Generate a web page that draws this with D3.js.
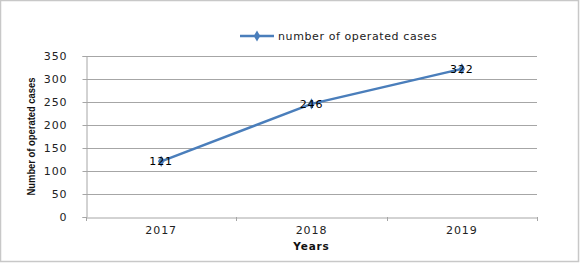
<!DOCTYPE html>
<html><head><meta charset="utf-8">
<script src="https://cdn.jsdelivr.net/npm/d3@7"></script>
<style>body{margin:0;background:#fff}svg{display:block}</style>
</head><body>
<script>
const categories = ["2017", "2018", "2019"];
const values = [121, 246, 322];
const yTicks = [0, 50, 100, 150, 200, 250, 300, 350];
const seriesName = "number of operated cases";
const xTitle = "Years";
const yTitle = "Number of operated cases";

(function () {
const W = 580, H = 263;
const svg = d3.select("body").append("svg").attr("width", W).attr("height", H);
svg.append("rect").attr("x", 0.5).attr("y", 0.5).attr("width", W - 2).attr("height", H - 2)
  .attr("fill", "#fff").attr("stroke", "#c8c8c8").attr("stroke-width", 1.5);

const mLeft = 86, mRight = 537, mTop = 56, mBottom = 217;
const x = d3.scaleBand().domain(categories).range([mLeft, mRight]);
const y = d3.scaleLinear().domain([0, 350]).range([mBottom, mTop]);
const font = "Verdana, 'DejaVu Sans', sans-serif";
const ls = 0.9;

// gridlines
svg.append("g").selectAll("line").data(yTicks.filter(d => d > 0)).join("line")
  .attr("x1", mLeft).attr("x2", mRight)
  .attr("y1", d => Math.round(y(d)) + 0.5).attr("y2", d => Math.round(y(d)) + 0.5)
  .attr("stroke", "#a6a6a6").attr("stroke-width", 1);

// y axis
const yAxis = svg.append("g").attr("transform", `translate(${mLeft + 0.5},0)`)
  .call(d3.axisLeft(y).tickValues(yTicks).tickSize(4).tickPadding(15));
yAxis.select(".domain").attr("stroke", "#a6a6a6");
yAxis.selectAll(".tick line").attr("stroke", "#a6a6a6");
yAxis.selectAll("text").attr("font-family", font).attr("font-size", 11)
  .attr("letter-spacing", ls).attr("fill", "#222");

// x axis
const xAxis = svg.append("g").attr("transform", `translate(0,${mBottom + 0.5})`)
  .call(d3.axisBottom(x).tickSize(0).tickPadding(9));
xAxis.select(".domain").attr("stroke", "#a6a6a6");
xAxis.selectAll("text").attr("font-family", font).attr("font-size", 11)
  .attr("letter-spacing", ls).attr("fill", "#222");
const bounds = categories.map(c => x(c)).concat([x(categories[categories.length - 1]) + x.bandwidth()]);
svg.append("g").selectAll("line").data(bounds).join("line")
  .attr("x1", d => Math.round(d) + 0.5).attr("x2", d => Math.round(d) + 0.5)
  .attr("y1", mBottom).attr("y2", mBottom + 4).attr("stroke", "#a6a6a6");

// line
const cx = d => x(d) + x.bandwidth() / 2;
const pts = categories.map((c, i) => [cx(c), y(values[i])]);
svg.append("path").attr("d", d3.line()(pts)).attr("fill", "none")
  .attr("stroke", "#4a7ebb").attr("stroke-width", 2.5);
const diamond = d3.symbol().type(d3.symbolDiamond).size(36);
svg.append("g").selectAll("path").data(pts).join("path")
  .attr("transform", d => `translate(${d[0]},${d[1]})`).attr("d", diamond)
  .attr("fill", "#4a7ebb");

// data labels
svg.append("g").selectAll("text").data(pts).join("text")
  .attr("x", d => d[0]).attr("y", d => d[1] + 4)
  .attr("text-anchor", "middle").attr("font-family", font).attr("font-size", 11)
  .attr("letter-spacing", ls).attr("fill", "#000").text((d, i) => values[i]);

// legend
svg.append("line").attr("x1", 240).attr("x2", 274).attr("y1", 36).attr("y2", 36)
  .attr("stroke", "#4a7ebb").attr("stroke-width", 2.5);
svg.append("path").attr("transform", "translate(257,36)").attr("d", diamond).attr("fill", "#4a7ebb");
svg.append("text").attr("x", 278).attr("y", 40).attr("font-family", font).attr("font-size", 11)
  .attr("letter-spacing", 0.6).attr("fill", "#222").text(seriesName);

// axis titles
svg.append("text").attr("x", (mLeft + mRight) / 2).attr("y", 250).attr("text-anchor", "middle")
  .attr("font-family", font).attr("font-size", 10.5).attr("font-weight", "bold")
  .attr("letter-spacing", 0.8).attr("fill", "#111").text(xTitle);
svg.append("text").attr("transform", `translate(35,${(77 + 196) / 2}) rotate(-90)`)
  .attr("text-anchor", "middle").attr("font-family", "'Liberation Sans', Arial, sans-serif")
  .attr("font-size", 11.5).attr("font-weight", "bold").attr("fill", "#111")
  .attr("textLength", 118).attr("lengthAdjust", "spacingAndGlyphs").text(yTitle);
})();
</script>
</body></html>
